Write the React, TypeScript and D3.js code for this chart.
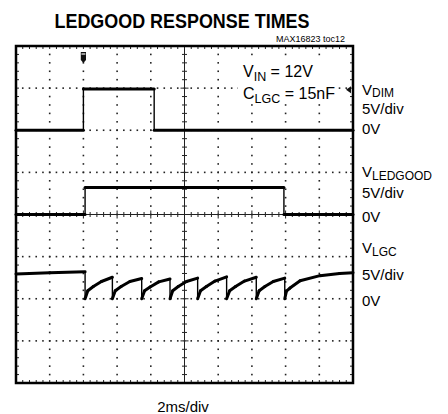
import * as d3 from "d3";

// time in ms (2ms/div, 10 div), voltages in V (5V/div)
const dimTime = [0, 4.0, 4.0, 8.2, 8.2, 20];
const dimVolts = [0, 0, 4.9, 4.9, 0, 0];

const ledgoodTime = [0, 4.1, 4.1, 15.9, 15.9, 20];
const ledgoodVolts = [0, 0, 3.2, 3.2, 0, 0];

const lgcTime = [
  0, 2.0, 4.1,
  4.1, 4.26, 4.59, 5.07, 5.72,
  5.72, 5.89, 6.24, 6.76, 7.46,
  7.46, 7.63, 7.96, 8.47, 9.14,
  9.14, 9.3, 9.63, 10.12, 10.78,
  10.78, 10.95, 11.3, 11.81, 12.5,
  12.5, 12.68, 13.03, 13.56, 14.26,
  14.26, 14.43, 14.77, 15.27, 15.95,
  15.95, 16.05, 16.26, 16.86, 18.04, 19.2, 20,
];
const lgcVolts = [
  2.95, 3.1, 3.2,
  0, 0.95, 1.45, 2.05, 2.55,
  0, 0.95, 1.45, 2.05, 2.4,
  0, 0.95, 1.4, 2.0, 2.35,
  0, 0.95, 1.45, 2.05, 2.45,
  0, 0.95, 1.45, 2.1, 2.6,
  0, 0.95, 1.45, 2.1, 2.55,
  0, 0.95, 1.45, 2.05, 2.45,
  0, 0.9, 1.27, 2.14, 2.74, 3.0, 3.1,
];

const channelNames = ["DIM", "LEDGOOD", "LGC"];
const channelOffsets = [2, 0, -2]; // 0V position in divisions from centre
const scaleLabel = "5V/div";
const timeLabel = "2ms/div";
const triggerTime = 4.0;
const triggerLevel = 4.8;

const W = 448, H = 414;
const left = 16, right = 353, top = 46, bottom = 383;

export default function App() {
  const x = d3.scaleLinear().domain([0, 20]).range([left, right]);
  const yDiv = d3.scaleLinear().domain([-4, 4]).range([bottom, top]);
  const y = (v: number, ch: number) => yDiv(v / 5 + channelOffsets[ch]);

  const xMajor = d3.range(0, 21, 2);
  const xMinor = d3.range(0, 20.01, 0.4);
  const yMajor = d3.range(-4, 5, 1);
  const yMinor = d3.range(-4, 4.01, 0.2);

  const font = "'Liberation Sans', Arial, sans-serif";

  const traces = [
    { t: dimTime, v: dimVolts },
    { t: ledgoodTime, v: ledgoodVolts },
    { t: lgcTime, v: lgcVolts },
  ];

  const segs: { x1: number; y1: number; x2: number; y2: number; vert: boolean }[] = [];
  traces.forEach((tr, ch) => {
    for (let i = 1; i < tr.t.length; i++) {
      segs.push({
        x1: x(tr.t[i - 1]), y1: y(tr.v[i - 1], ch),
        x2: x(tr.t[i]), y2: y(tr.v[i], ch),
        vert: tr.t[i] === tr.t[i - 1],
      });
    }
  });

  const dots: { cx: number; cy: number }[] = [];
  xMajor.slice(1, -1).forEach((t) => {
    if (t === 10) return;
    yMinor.slice(1, -1).forEach((d) => dots.push({ cx: x(t), cy: yDiv(d) }));
  });
  yMajor.slice(1, -1).forEach((d) => {
    if (d === 0) return;
    xMinor.slice(1, -1).forEach((t) => dots.push({ cx: x(t), cy: yDiv(d) }));
  });

  const labelY = [
    [94.5, 114, 134],
    [177, 198, 222],
    [253, 280, 306],
  ];

  const tx = x(triggerTime);
  const ty = y(triggerLevel, 0);

  return (
    <svg width={W} height={H} style={{ position: "absolute", left: 0, top: 0, background: "#fff" }}>
      <text x={182} y={28} textAnchor="middle" fontFamily={font} fontWeight="bold" fontSize={20.5}
        textLength={255} lengthAdjust="spacingAndGlyphs">LEDGOOD RESPONSE TIMES</text>
      <text x={345} y={42} textAnchor="end" fontFamily={font} fontSize={9}>MAX16823 toc12</text>

      {/* graticule dots */}
      {dots.map((d, i) => (
        <rect key={i} x={d.cx - 0.8} y={d.cy - 0.8} width={1.6} height={1.6} fill="#222" />
      ))}

      {/* centre axes with ticks */}
      <line x1={x(10)} x2={x(10)} y1={top} y2={bottom} stroke="#222" strokeWidth={1} />
      <line x1={left} x2={right} y1={yDiv(0)} y2={yDiv(0)} stroke="#222" strokeWidth={1} />
      {yMinor.map((d, i) => (
        <line key={"cy" + i} x1={x(10) - (i % 5 === 0 ? 4 : 2.5)} x2={x(10) + (i % 5 === 0 ? 4 : 2.5)}
          y1={yDiv(d)} y2={yDiv(d)} stroke="#222" strokeWidth={1} />
      ))}
      {xMinor.map((t, i) => (
        <line key={"cx" + i} x1={x(t)} x2={x(t)} y1={yDiv(0) - (i % 5 === 0 ? 4 : 2.5)}
          y2={yDiv(0) + (i % 5 === 0 ? 4 : 2.5)} stroke="#222" strokeWidth={1} />
      ))}

      {/* edge ticks */}
      {xMinor.map((t, i) => (
        <g key={"ex" + i}>
          <line x1={x(t)} x2={x(t)} y1={top} y2={top + 3} stroke="#222" strokeWidth={1} />
          <line x1={x(t)} x2={x(t)} y1={bottom} y2={bottom - 3} stroke="#222" strokeWidth={1} />
        </g>
      ))}
      {yMinor.map((d, i) => (
        <g key={"ey" + i}>
          <line x1={left} x2={left + 3} y1={yDiv(d)} y2={yDiv(d)} stroke="#222" strokeWidth={1} />
          <line x1={right} x2={right - 3} y1={yDiv(d)} y2={yDiv(d)} stroke="#222" strokeWidth={1} />
        </g>
      ))}

      {/* traces */}
      {segs.map((s, i) => (
        <line key={"s" + i} x1={s.x1} y1={s.y1} x2={s.x2} y2={s.y2} stroke="#000"
          strokeWidth={s.vert ? 1.4 : 3} strokeLinecap={s.vert ? "butt" : "round"} />
      ))}

      {/* frame */}
      <rect x={left} y={top} width={right - left} height={bottom - top} fill="none" stroke="#000" strokeWidth={2.5} />

      {/* trigger markers */}
      <path d={`M${tx - 2.6},${top + 6} h5.2 v8 l-2.6,3 l-2.6,-3 z`} fill="#111" />
      <rect x={tx - 2} y={top + 7} width={4} height={2} fill="#999" />
      <path d={`M${right - 2},${ty - 3.5} v7 l-5,-3.5 z`} fill="#111" />

      {/* conditions, on a white box over the graticule */}
      <rect x={238} y={60} width={98} height={44} fill="#fff" />
      <text x={243} y={77} fontFamily={font} fontSize={16}>
        V<tspan fontSize={12.5} dy={3.5}>IN</tspan><tspan dy={-3.5}> = 12V</tspan>
      </text>
      <text x={243} y={99} fontFamily={font} fontSize={16}>
        C<tspan fontSize={12.5} dy={3.5}>LGC</tspan><tspan dy={-3.5}> = 15nF</tspan>
      </text>

      {/* channel labels */}
      {channelNames.map((n, ch) => (
        <g key={n} fontFamily={font} fontSize={15}>
          <text x={362} y={labelY[ch][0]}>
            V<tspan fontSize={12} dy={2.5}>{n}</tspan>
          </text>
          <text x={362} y={labelY[ch][1]}>{scaleLabel}</text>
          <text x={362} y={labelY[ch][2]}>0V</text>
        </g>
      ))}

      <text x={183} y={412} textAnchor="middle" fontFamily={font} fontSize={15}>{timeLabel}</text>
    </svg>
  );
}
